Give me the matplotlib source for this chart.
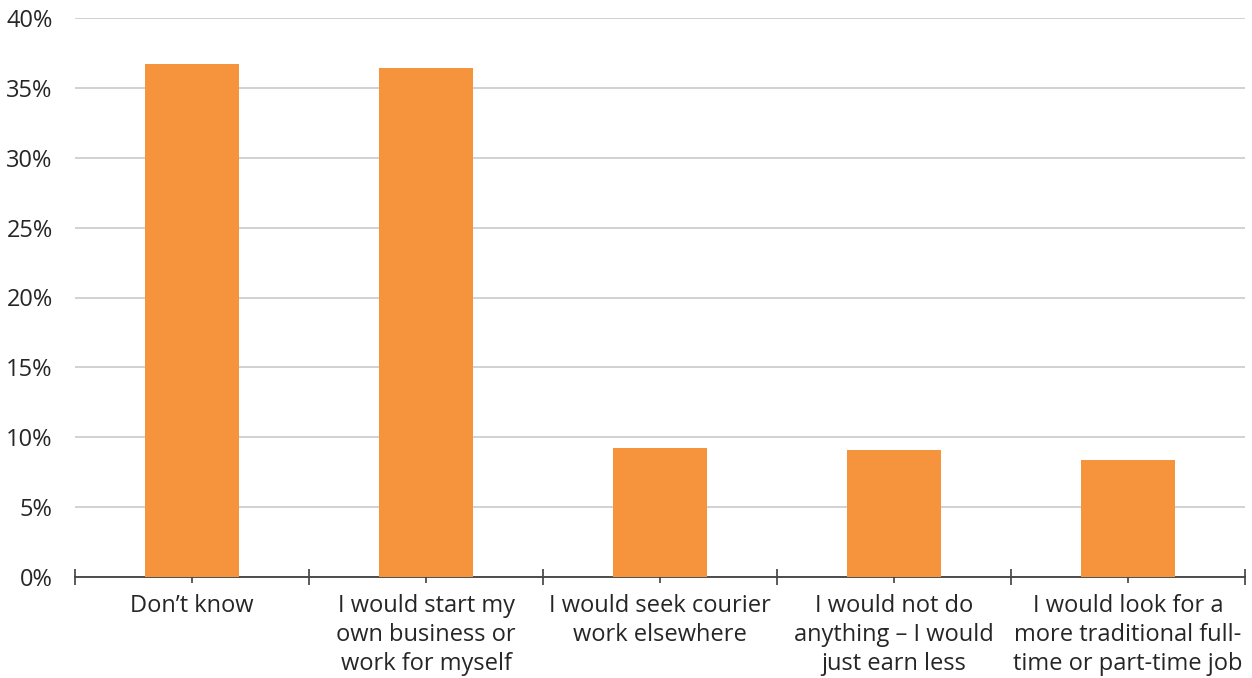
import matplotlib; matplotlib.use("Agg")
import matplotlib.pyplot as plt
import numpy as np

BAR = "#F5943C"; GRID = "#C9C9C9"; INK = "#262626"; AX = "#404040"
plt.rcParams.update({"font.family": ["Open Sans", "DejaVu Sans"], "text.color": INK})

labels = ["Don\u2019t know",
          "I would start my\nown business or\nwork for myself",
          "I would seek courier\nwork elsewhere",
          "I would not do\nanything \u2013 I would\njust earn less",
          "I would look for a\nmore traditional full-\ntime or part-time job"]
values = [36.7, 36.4, 9.2, 9.1, 8.4]
yticks = [0, 5, 10, 15, 20, 25, 30, 35, 40]

fig = plt.figure(figsize=(12.52, 6.78), dpi=100)
ax = fig.add_axes([75/1252, 1-577/678, 1170/1252, 559/678])
x = np.arange(len(values))
ax.bar(x, values, width=0.4, color=BAR, zorder=3)
ax.set_xlim(-0.5, len(values)-0.5); ax.set_ylim(0, 40)
ax.set_yticks(yticks)
ax.set_yticklabels(["%d%%" % v for v in yticks], fontsize=17, color=INK)
ax.tick_params(axis="y", length=0, pad=16)
ax.yaxis.grid(True, color=GRID, lw=1.2); ax.set_axisbelow(True)
ax.set_xticks(np.arange(-0.5, len(values)), labels=[""]*(len(values)+1))
ax.tick_params(axis="x", which="major", direction="inout", length=11, width=1.2, color=AX)
ax.set_xticks(x, minor=True)
ax.set_xticklabels(labels, minor=True, fontsize=17, color=INK, linespacing=1.3)
ax.tick_params(axis="x", which="minor", direction="inout", length=8, width=1.2, color=AX, pad=8)
for sp in ["top", "right", "left"]: ax.spines[sp].set_visible(False)
ax.spines["bottom"].set_color(AX); ax.spines["bottom"].set_linewidth(1.3)
fig.savefig("out.png", dpi=100, facecolor="white")
